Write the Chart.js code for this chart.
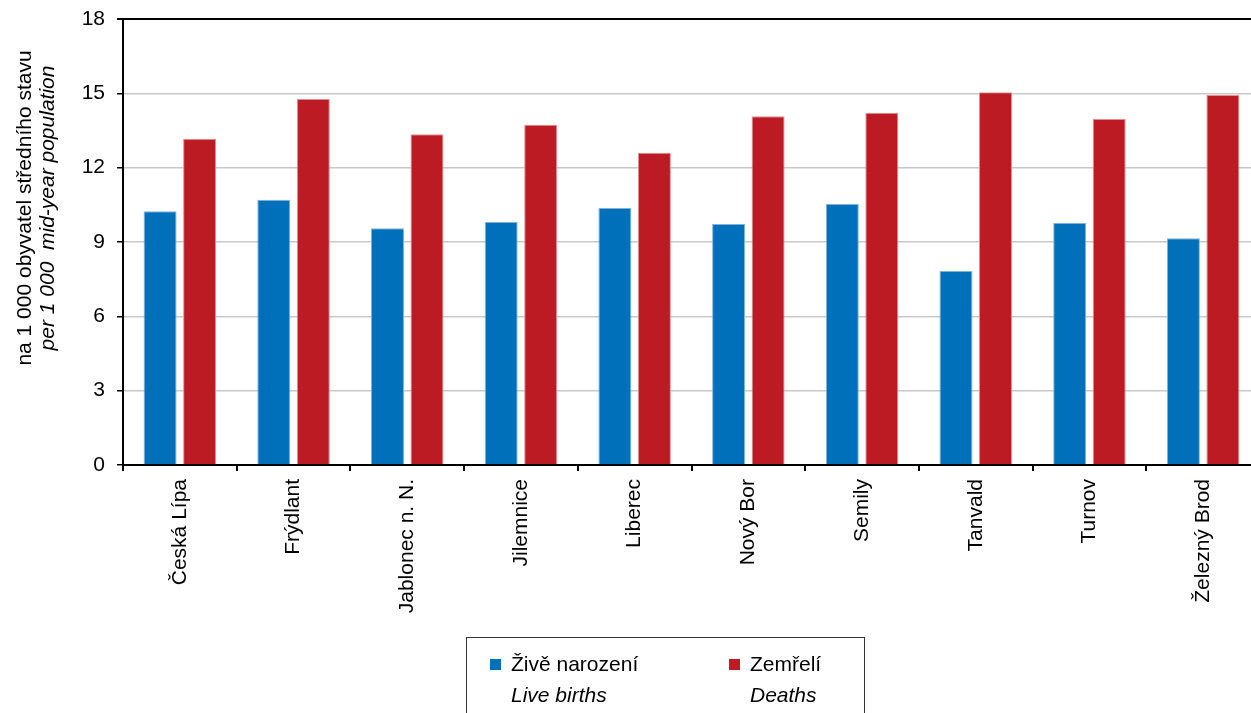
<!DOCTYPE html>
<html>
<head>
<meta charset="utf-8">
<script src="https://cdn.jsdelivr.net/npm/chart.js@4"></script>
<style>
  html, body { margin: 0; padding: 0; overflow: hidden; background: #fff; }
  #wrap { position: absolute; left: 0; top: 0; }
</style>
</head>
<body>
<div id="wrap"><canvas id="chart" width="1262" height="713"></canvas></div>
<script>
const categories = ['Česká Lípa', 'Frýdlant', 'Jablonec n. N.', 'Jilemnice', 'Liberec',
    'Nový Bor', 'Semily', 'Tanvald', 'Turnov', 'Železný Brod'];
const liveBirths = [10.24, 10.71, 9.55, 9.81, 10.37, 9.73, 10.53, 7.83, 9.77, 9.15];
const deaths = [13.17, 14.77, 13.35, 13.73, 12.6, 14.08, 14.22, 15.04, 13.96, 14.93];
const seriesNames = ['Živě narození', 'Zemřelí'];
const seriesNamesEn = ['Live births', 'Deaths'];
const yTitle = ['na 1 000 obyvatel středního stavu', 'per 1 000  mid-year population'];

const FONT = '"Liberation Sans", Arial, sans-serif';

// y axis title, two lines, second one italic
const yTitlePlugin = {
    id: 'yTitle',
    afterDraw(chart) {
        const ctx = chart.ctx;
        ctx.save();
        ctx.translate(0, 208);
        ctx.rotate(-Math.PI / 2);
        ctx.textAlign = 'center';
        ctx.textBaseline = 'middle';
        ctx.fillStyle = '#000';
        ctx.font = '21px ' + FONT;
        ctx.fillText(yTitle[0], 0, 25);
        ctx.font = 'italic 21px ' + FONT;
        ctx.fillText(yTitle[1], 0, 48);
        ctx.restore();
    }
};

// framed legend below the chart
const boxLegend = {
    id: 'boxLegend',
    afterDraw(chart) {
        const ctx = chart.ctx;
        ctx.save();
        ctx.strokeStyle = '#333';
        ctx.lineWidth = 1;
        ctx.strokeRect(466.5, 637.5, 398, 90);
        const xs = [490, 729];
        chart.data.datasets.forEach(function (ds, i) {
            ctx.fillStyle = ds.backgroundColor;
            ctx.fillRect(xs[i], 659, 11, 11);
            ctx.fillStyle = '#000';
            ctx.textBaseline = 'alphabetic';
            ctx.textAlign = 'left';
            ctx.font = '21px ' + FONT;
            ctx.fillText(ds.label, xs[i] + 21, 671);
            ctx.font = 'italic 21px ' + FONT;
            ctx.fillText(seriesNamesEn[i], xs[i] + 21, 702);
        });
        ctx.restore();
    }
};

new Chart(document.getElementById('chart'), {
    type: 'bar',
    data: {
        labels: categories,
        datasets: [{
            label: seriesNames[0],
            data: liveBirths,
            backgroundColor: '#0070BB',
            borderColor: '#7fb3dc',
            borderWidth: 1,
            categoryPercentage: 0.695,
            barPercentage: 0.835
        }, {
            label: seriesNames[1],
            data: deaths,
            backgroundColor: '#BD1B23',
            borderColor: '#e09094',
            borderWidth: 1,
            categoryPercentage: 0.695,
            barPercentage: 0.835
        }]
    },
    options: {
        responsive: false,
        animation: false,
        layout: { padding: { top: 19, left: 0, right: 2, bottom: 0 } },
        plugins: {
            legend: { display: false },
            tooltip: { enabled: false }
        },
        scales: {
            x: {
                afterFit: function (scale) {
                    scale.height = 248;
                    scale.paddingLeft = 0;
                    scale.paddingRight = 0;
                },
                grid: {
                    offset: true,
                    drawOnChartArea: false,
                    drawTicks: true,
                    tickLength: 6,
                    color: '#000',
                    lineWidth: 2
                },
                border: { display: true, color: '#000', width: 2 },
                ticks: {
                    minRotation: 90,
                    maxRotation: 90,
                    autoSkip: false,
                    padding: 8,
                    color: '#000',
                    font: { family: FONT, size: 21 }
                }
            },
            y: {
                min: 0,
                max: 18,
                afterFit: function (scale) {
                    scale.width = 123;
                    scale.paddingTop = 0;
                    scale.paddingBottom = 0;
                },
                grid: {
                    color: function (c) { return c.tick && c.tick.value === 18 ? '#000' : '#c8c8c8'; },
                    lineWidth: function (c) { return c.tick && c.tick.value === 18 ? 2 : 1.5; },
                    tickColor: '#000',
                    tickLength: 6,
                    drawTicks: true
                },
                border: { display: true, color: '#000', width: 2 },
                ticks: {
                    stepSize: 3,
                    padding: 12,
                    color: '#000',
                    font: { family: FONT, size: 21 }
                }
            }
        }
    },
    plugins: [yTitlePlugin, boxLegend]
});
</script>
</body>
</html>
